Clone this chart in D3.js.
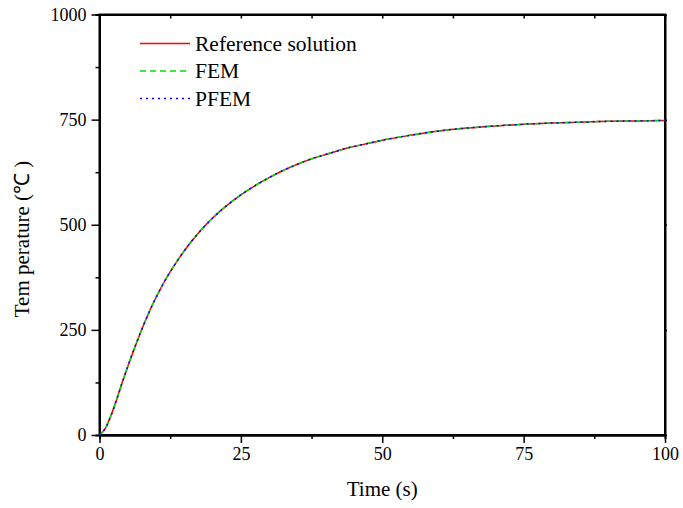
<!DOCTYPE html>
<html>
<head>
<meta charset="utf-8">
<script src="https://cdn.jsdelivr.net/npm/d3@7"></script>
<style>
  body { margin: 0; background: #fff; }
</style>
</head>
<body>
<script>
// time (s)
var times = [0, 1, 2, 3, 4, 5, 6, 7, 8, 9, 10, 11, 12, 14, 16, 18, 20, 22, 25, 28, 30, 32, 35, 38, 40, 44, 48, 50, 55, 60, 65, 70, 75, 80, 85, 90, 95, 100];
// temperature (C) for each method
var refTemps  = [0, 15, 45, 83, 124, 163, 200, 235, 268, 299, 327, 353, 377, 419, 456, 488, 516, 540, 571, 597, 612, 626, 644, 659, 667, 683, 695, 701, 713, 723, 730, 735, 739, 742, 744, 746, 747, 748];
var femTemps  = [0, 15, 45, 83, 124, 163, 200, 235, 268, 299, 327, 353, 377, 419, 456, 488, 516, 540, 571, 597, 612, 626, 644, 659, 667, 683, 695, 701, 713, 723, 730, 735, 739, 742, 744, 746, 747, 748];
var pfemTemps = [0, 15, 45, 83, 124, 163, 200, 235, 268, 299, 327, 353, 377, 419, 456, 488, 516, 540, 571, 597, 612, 626, 644, 659, 667, 683, 695, 701, 713, 723, 730, 735, 739, 742, 744, 746, 747, 748];

var seriesNames = ["Reference solution", "FEM", "PFEM"];
var xTicks = [0, 25, 50, 75, 100];
var yTicks = [0, 250, 500, 750, 1000];

function init(){
    var w = 683, h = 508;
    var left = 99.5, right = 665, top = 14.5, bottom = 435;
    var serif = "Liberation Serif";

    var svg = d3.select("body").append("svg")
                .attr("width", w)
                .attr("height", h);

    var x = d3.scaleLinear().domain([0, 100]).range([left, right]);
    var y = d3.scaleLinear().domain([0, 1000]).range([bottom, top]);

    var xMinor = d3.range(12.5, 100, 25);
    var yMinor = d3.range(125, 1000, 250);

    // bottom axis
    var bx = svg.append("g").attr("transform", "translate(0," + bottom + ")");
    bx.call(d3.axisBottom(x).tickValues(xTicks).tickSize(8).tickSizeOuter(0).tickPadding(4).tickFormat(d3.format("d")));
    bx.append("g").call(d3.axisBottom(x).tickValues(xMinor).tickSize(4).tickFormat(""));

    // left axis
    var ly = svg.append("g").attr("transform", "translate(" + left + ",0)");
    ly.call(d3.axisLeft(y).tickValues(yTicks).tickSize(8).tickSizeOuter(0).tickPadding(5).tickFormat(d3.format("d")));
    ly.append("g").call(d3.axisLeft(y).tickValues(yMinor).tickSize(4).tickFormat(""));

    // top axis, ticks inward
    svg.append("g").attr("transform", "translate(0," + top + ")")
       .call(d3.axisBottom(x).tickValues(xTicks.concat(xMinor)).tickSize(4).tickSizeOuter(0).tickFormat(""));
    // right axis
    svg.append("g").attr("transform", "translate(" + right + ",0)")
       .call(d3.axisRight(y).tickValues(yTicks).tickSize(2).tickSizeOuter(0).tickFormat(""));

    svg.selectAll(".domain").attr("stroke-width", 2);
    svg.selectAll(".tick line").attr("stroke-width", 1.5);
    svg.selectAll(".tick text").attr("font-size", 18);

    // frame
    svg.append("rect")
       .attr("x", left).attr("y", top)
       .attr("width", right - left).attr("height", bottom - top)
       .attr("fill", "none").attr("stroke", "#000").attr("stroke-width", 2);

    var line = d3.line()
                 .x(function(d){ return x(d[0]); })
                 .y(function(d){ return y(d[1]); })
                 .curve(d3.curveMonotoneX);

    var series = [
        {name: seriesNames[0], vals: refTemps,  color: "#ff0000", dash: null},
        {name: seriesNames[1], vals: femTemps,  color: "#00e000", dash: "6,4"},
        {name: seriesNames[2], vals: pfemTemps, color: "#0000ff", dash: "2,4"}
    ];

    series.forEach(function(s){
        var pts = times.map(function(t, i){ return [t, s.vals[i]]; });
        svg.append("path")
           .datum(pts)
           .attr("fill", "none")
           .attr("stroke", s.color)
           .attr("stroke-width", 1.5)
           .attr("stroke-dasharray", s.dash)
           .attr("d", line);
    });

    // legend
    var lg = svg.append("g").attr("transform", "translate(140,43.5)");
    series.forEach(function(s, i){
        var row = lg.append("g").attr("transform", "translate(0," + (i * 27.5) + ")");
        row.append("line")
           .attr("x1", 0).attr("x2", 50).attr("y1", 0).attr("y2", 0)
           .attr("stroke", s.color).attr("stroke-width", 1.5)
           .attr("stroke-dasharray", s.dash);
        row.append("text")
           .attr("x", 55).attr("y", 7)
           .attr("font-size", 21.5)
           .text(s.name);
    });

    // axis titles
    svg.append("text")
       .attr("x", (left + right) / 2).attr("y", 496)
       .attr("text-anchor", "middle")
       .attr("font-size", 21)
       .text("Time (s)");

    svg.append("text")
       .attr("transform", "translate(29,239) rotate(-90)")
       .attr("text-anchor", "middle")
       .attr("font-size", 21)
       .text("Tem perature (℃ )");

    // Times-like font everywhere
    svg.selectAll("g").attr("font-family", serif);
    svg.selectAll("text").attr("font-family", serif).attr("fill", "#000");
}
init();
</script>
</body>
</html>
